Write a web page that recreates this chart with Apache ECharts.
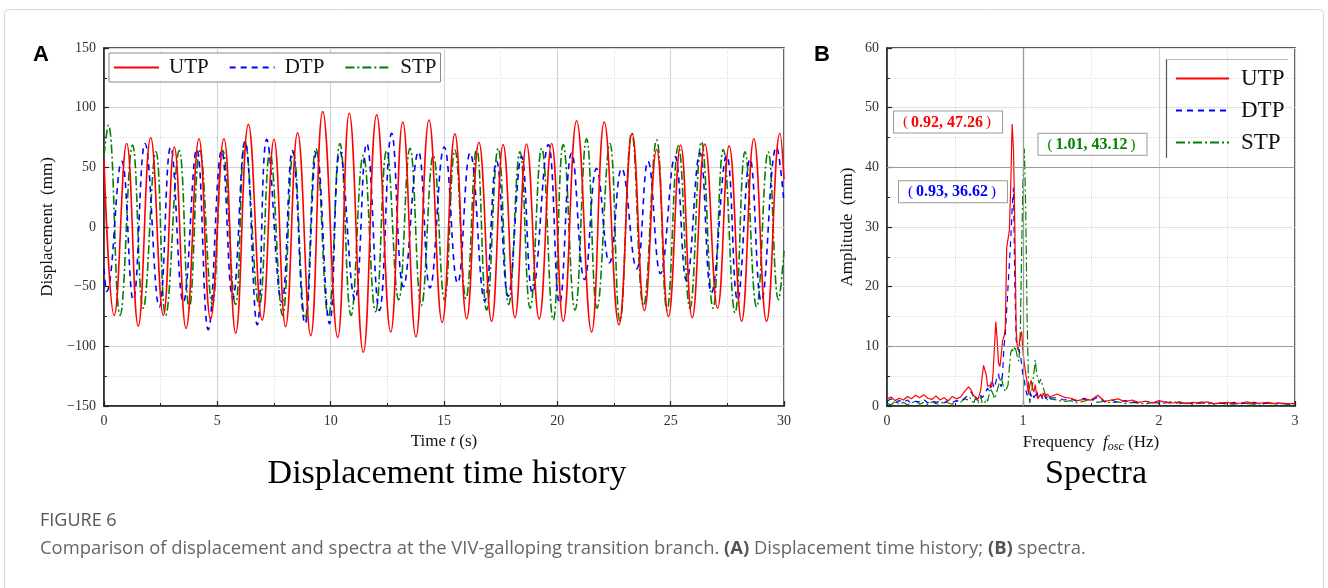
<!DOCTYPE html>
<html><head><meta charset="utf-8">
<script src="https://cdn.jsdelivr.net/npm/echarts@6/dist/echarts.min.js"></script>
<style>html,body{margin:0;padding:0;background:#fff}#c{width:1328px;height:588px}</style>
</head><body><div id="c"></div>
<script>
// ---------- Panel A: displacement time history (turning points) ----------
const seriesNames = ['UTP', 'DTP', 'STP'];
const utpT = [0,0.45,1.0,1.51,2.06,2.62,3.1,3.62,4.19,4.7,5.29,5.81,6.37,6.98,7.5,8.01,8.54,9.12,9.65,10.31,10.82,11.44,12.03,12.65,13.18,13.76,14.34,14.92,15.48,16.0,16.54,17.1,17.61,18.13,18.64,19.2,19.75,20.26,20.85,21.51,22.07,22.72,23.3,23.84,24.38,24.9,25.44,25.95,26.51,27.07,27.58,28.13,28.67,29.23,29.82,30];
const utpV = [55,-74,70,-83,75,-74,67,-85,74,-77,74,-89,86,-78,73.5,-83.5,79,-91,96.7,-92.5,95.3,-105,94,-88,88,-92,89.7,-80,78,-77,71,-79,69,-76,69.5,-77,70,-79,89,-88,88,-82,78.5,-70,65,-75,68.7,-76,69.5,-68,68,-79,74,-79,78.5,40];
const dtpT = [0,0.12,0.78,1.29,1.81,2.44,2.94,3.5,4.09,4.6,5.19,5.68,6.22,6.76,7.18,7.84,8.31,8.87,9.38,9.95,10.41,11.07,11.59,12.15,12.69,13.21,13.87,14.38,15.01,15.6,16.15,16.8,17.32,17.83,18.42,18.9,19.6,20.1,20.63,21.2,21.73,22.3,22.84,23.5,24.0,24.55,25.19,25.7,26.29,26.8,27.47,27.95,28.5,29.0,29.67,30];
const dtpV = [-35,-54,55,-61,70,-67,67,-63,65,-86,64,-60,71.5,-82,73.5,-63,64,-81,63,-81,63,-61,70,-70,78.5,-50,63,-51,67,-47,62,-62,55,-58,59,-55,69,-64,62,-44,49,-30,49,-35,55,-39,59,-45,62,-55,60,-61,57,-62,67,20];
const stpT = [0,0.19,0.71,1.26,1.73,2.29,2.72,3.32,3.76,4.23,4.78,5.24,5.8,6.22,6.85,7.32,7.88,8.35,8.87,9.35,9.9,10.41,10.9,11.44,11.98,12.47,13.0,13.5,14.0,14.53,15.02,15.48,15.97,16.44,16.88,17.39,17.85,18.35,18.8,19.31,19.82,20.26,20.78,21.29,21.75,22.32,22.76,23.28,23.8,24.38,24.84,25.34,25.85,26.36,26.87,27.32,27.84,28.28,28.79,29.3,29.76,30];
const stpV = [60,85.5,-74,68.7,-68,63,-74,64,-68,64,-65,64,-65,71.5,-66,62,-74,63,-76.5,66,-75,70,-74,60,-71,64,-61,66,-66,60,-61,64.5,-60,66,-69.6,66,-65,63,-68,66,-78,69,-69.6,74,-68,70,-79,79,-66,73,-69.6,68,-68,71.5,-68,65,-72,63,-67,63,-61,-20];

// ---------- Panel B: amplitude spectra ----------
const freqs = [0,0.03,0.06,0.09,0.12,0.15,0.18,0.21,0.24,0.27,0.3,0.33,0.36,0.39,0.42,0.45,0.48,0.51,0.54,0.57,0.6,
  0.61,0.62,0.63,0.64,0.65,0.66,0.67,0.68,0.69,0.7,0.71,0.72,0.73,0.74,0.75,0.76,0.77,0.78,0.79,0.8,
  0.81,0.82,0.83,0.84,0.85,0.86,0.87,0.88,0.89,0.9,0.91,0.92,0.93,0.94,0.95,0.96,0.97,0.98,0.99,1.0,
  1.01,1.02,1.03,1.04,1.05,1.06,1.07,1.08,1.09,1.1,1.11,1.12,1.13,1.14,1.15,1.16,1.17,1.18,1.19,1.2,
  1.25,1.3,1.35,1.4,1.45,1.5,1.55,1.6,1.65,1.7,1.75,1.8,1.85,1.9,1.95,2.0,2.05,2.1,2.15,2.2,
  2.25,2.3,2.35,2.4,2.45,2.5,2.55,2.6,2.65,2.7,2.75,2.8,2.85,2.9,2.95,3.0];
const utpAmp = [1.2,1.5,0.9,1.3,1.0,1.6,1.2,1.8,1.4,1.9,1.3,1.1,1.7,1.0,1.4,0.8,1.6,1.2,1.5,2.4,3.2,
  3.4,2.6,2.0,1.7,1.4,1.5,1.2,1.9,2.8,5.0,6.8,7.1,5.2,3.3,3.0,3.5,3.1,5.5,9.8,14.1,
  11.0,7.2,6.6,8.5,11.0,11.6,13.0,26.5,28.0,29.5,37.0,47.26,43.0,30.0,12.5,9.5,10.0,11.5,12.5,9.0,
  7.0,5.5,3.8,2.0,3.5,4.3,3.0,2.4,3.6,1.8,1.2,1.1,2.0,1.5,2.2,1.6,1.3,2.0,1.8,1.5,
  2.0,1.5,1.3,0.9,1.1,1.0,1.8,0.8,1.0,1.2,0.7,1.0,0.6,0.8,0.5,0.9,0.6,0.5,0.7,0.4,
  0.6,0.5,0.7,0.4,0.5,0.6,0.4,0.5,0.7,0.4,0.5,0.6,0.4,0.5,0.3,0.5];
const dtpAmp = [0.8,1.2,0.5,0.9,0.6,1.0,0.4,0.8,0.7,1.1,0.5,0.9,0.6,0.8,0.5,1.0,0.6,0.9,0.7,1.3,1.8,
  1.6,2.4,1.8,1.2,1.6,1.3,0.9,1.2,1.8,1.4,1.1,2.0,2.6,3.0,2.4,3.2,4.5,3.6,3.0,4.0,
  5.0,5.4,4.0,3.2,5.5,10.0,12.0,16.0,20.0,24.0,28.0,33.0,36.62,20.0,11.0,9.8,9.2,8.8,7.0,5.0,
  4.2,2.8,1.8,2.2,2.6,1.5,2.0,1.4,1.8,2.6,1.6,1.2,1.9,1.4,1.0,1.6,1.2,1.8,1.3,1.0,
  1.4,1.0,1.2,0.8,1.3,0.9,1.5,0.7,1.0,0.6,0.9,0.7,0.5,0.8,0.6,0.5,0.7,0.4,0.6,0.5,
  0.4,0.6,0.7,0.4,0.5,0.3,0.6,0.4,0.5,0.6,0.3,0.5,0.4,0.6,0.3,0.4];
const stpAmp = [0.4,0.2,0.8,0.3,0.6,0.2,0.5,0.9,0.3,0.6,0.2,0.7,0.4,0.3,0.8,0.5,0.3,0.9,0.6,1.2,1.0,
  1.4,0.8,1.1,0.6,1.3,0.9,0.5,0.8,1.6,0.4,0.2,0.6,1.2,0.8,1.8,3.0,3.2,2.0,1.2,1.8,
  2.6,3.4,4.2,4.9,3.8,3.0,2.4,2.2,3.5,6.5,9.0,9.5,9.1,10.0,9.2,8.0,7.5,12.0,26.0,38.0,
  43.12,33.0,15.0,4.0,0.5,1.8,3.5,5.5,7.7,5.5,4.5,3.8,4.5,4.2,3.0,2.2,1.5,1.0,1.6,1.2,
  1.0,0.7,0.9,0.5,0.8,1.2,0.6,0.8,0.5,0.7,0.4,0.6,0.5,0.3,0.6,0.4,0.5,0.8,0.4,0.5,
  0.3,0.5,0.4,0.3,0.5,0.4,0.3,0.5,0.4,0.3,0.4,0.5,0.3,0.4,0.3,0.4];
const peakF = [0.92, 0.93, 1.01];
const peakA = [47.26, 36.62, 43.12];

const colors = {UTP: '#ff0000', DTP: '#0000ff', STP: '#008000'};
const dashes = {UTP: 'solid', DTP: [6, 5], STP: [9, 3, 2, 3]};
const SERIF = '"Liberation Serif", "Times New Roman", serif';
const pairs = (xs, ys) => xs.map((x, i) => [x, ys[i]]);
const minusFmt = v => String(v).replace('-', '\u2212');

function axisCommon(extra) {
  return Object.assign({
    type: 'value',
    axisLine: {show: true, onZero: false, lineStyle: {color: '#222', width: 1.5}},
    axisTick: {show: true, inside: true, length: 5, lineStyle: {color: '#222', width: 1.2}},
    minorTick: {show: true, splitNumber: 2, length: 3, lineStyle: {color: '#222', width: 1}},
    axisLabel: {fontFamily: SERIF, fontSize: 14, color: '#333', formatter: minusFmt},
    splitLine: {show: true, lineStyle: {color: '#d4d4d4', width: 1.2}},
    minorSplitLine: {show: true, lineStyle: {color: '#dedede', type: 'dotted', width: 1}},
    nameLocation: 'middle',
    nameTextStyle: {fontFamily: SERIF, fontSize: 17, color: '#111'}
  }, extra);
}

const chart = echarts.init(document.getElementById('c'), null, {renderer: 'canvas'});

const labelPos = {UTP: [0.449, 47.6], DTP: [0.485, 35.9], STP: [1.511, 43.85]};

const seriesA = [
  {name: 'STP', t: stpT, v: stpV},
  {name: 'DTP', t: dtpT, v: dtpV},
  {name: 'UTP', t: utpT, v: utpV}
].map(s => ({
  name: s.name, type: 'line', xAxisIndex: 0, yAxisIndex: 0,
  data: pairs(s.t, s.v), smooth: 0.45, symbol: 'none', showSymbol: false,
  lineStyle: {color: colors[s.name], width: 1.6, type: dashes[s.name]},
  itemStyle: {color: colors[s.name]}, animation: false
}));

const ampMap = {UTP: utpAmp, DTP: dtpAmp, STP: stpAmp};
const seriesB = ['STP', 'DTP', 'UTP'].map((name, k) => {
  const idx = seriesNames.indexOf(name);
  const c = colors[name];
  const s = {
    name, type: 'line', xAxisIndex: 1, yAxisIndex: 1,
    data: pairs(freqs, ampMap[name]), symbol: 'none', showSymbol: false,
    lineStyle: {color: c, width: 1.2, type: dashes[name]},
    itemStyle: {color: c}, animation: false,
    markPoint: {
      silent: true, symbol: 'rect', symbolSize: 1, itemStyle: {color: 'rgba(0,0,0,0)'},
      label: {
        show: true, position: 'inside',
        formatter: '{l|(}{t|' + peakF[idx].toFixed(2) + ', ' + peakA[idx].toFixed(2) + '}{r|)}',
        rich: {
          l: {fontFamily: SERIF, fontSize: 15, color: c, padding: [0, 3, 0, 9]},
          r: {fontFamily: SERIF, fontSize: 15, color: c, padding: [0, 11, 0, 3]},
          t: {fontFamily: SERIF, fontWeight: 'bold', fontSize: 16, color: c}
        },
        backgroundColor: '#fff', borderColor: '#9a9a9a', borderWidth: 1, padding: [3, 0, 2, 0]
      },
      data: [{coord: labelPos[name]}]
    }
  };
  if (k === 0) {
    s.markLine = {
      silent: true, symbol: 'none', animation: false,
      lineStyle: {color: '#9a9a9a', type: 'solid', width: 1.2},
      label: {show: false},
      data: [{xAxis: 1}, {yAxis: 10}, {yAxis: 40}]
    };
  }
  return s;
});

const CAP = '"Open Sans", "Noto Sans", sans-serif';
const option = {
  animation: false,
  backgroundColor: '#fff',
  grid: [
    {left: 104, top: 48, width: 680, height: 358, show: true, borderColor: '#222', borderWidth: 1.5, backgroundColor: '#fff'},
    {left: 887, top: 48, width: 408, height: 358, show: true, borderColor: '#222', borderWidth: 1.5, backgroundColor: '#fff'}
  ],
  xAxis: [
    axisCommon({gridIndex: 0, min: 0, max: 30, interval: 5,
      name: '{n|Time }{i|t}{n| (s)}', nameGap: 26,
      nameTextStyle: {rich: {n: {fontFamily: SERIF, fontSize: 17, color: '#111'}, i: {fontFamily: SERIF, fontSize: 17, fontStyle: 'italic', color: '#111'}}}}),
    axisCommon({gridIndex: 1, min: 0, max: 3, interval: 1,
      name: '{n|Frequency  }{i|f}{s|osc}{n| (Hz)}', nameGap: 26,
      nameTextStyle: {rich: {
        n: {fontFamily: SERIF, fontSize: 17, color: '#111', lineHeight: 20},
        i: {fontFamily: SERIF, fontSize: 17, fontStyle: 'italic', color: '#111', lineHeight: 20},
        s: {fontFamily: SERIF, fontSize: 12, fontStyle: 'italic', color: '#111', verticalAlign: 'bottom', lineHeight: 14, padding: [8, 0, 0, 0]}}}})
  ],
  yAxis: [
    axisCommon({gridIndex: 0, min: -150, max: 150, interval: 50,
      name: 'Displacement  (mm)', nameGap: 37}),
    axisCommon({gridIndex: 1, min: 0, max: 60, interval: 10,
      name: 'Amplitude  (mm)', nameGap: 31,
      splitLine: {show: true, lineStyle: {color: '#e2e2e2', width: 1.2}}})
  ],
  legend: [
    {data: seriesNames, left: 109, top: 53, orient: 'horizontal',
      backgroundColor: '#fff', borderColor: '#888', borderWidth: 1, padding: [4, 4, 4, 4],
      itemWidth: 45, itemHeight: 14, itemGap: 20, itemStyle: {opacity: 0},
      textStyle: {fontFamily: SERIF, fontSize: 21, color: '#111', padding: [0, 0, 0, 5]}},
    {data: seriesNames, left: 1170, top: 62, orient: 'vertical',
      itemWidth: 53, itemHeight: 14, itemGap: 9, itemStyle: {opacity: 0},
      textStyle: {fontFamily: SERIF, fontSize: 23, color: '#111', padding: [0, 0, 0, 7]}}
  ],
  series: seriesA.concat(seriesB),
  graphic: [
    {type: 'rect', silent: true, z: -10, shape: {x: 4.5, y: 9.5, width: 1319, height: 640, r: 4},
      style: {fill: 'none', stroke: '#d8d8d8', lineWidth: 1}},
    {type: 'text', silent: true, x: 33, y: 44, style: {text: 'A', font: 'bold 22px "Liberation Sans", Arial, sans-serif', fill: '#000'}},
    {type: 'text', silent: true, x: 814, y: 44, style: {text: 'B', font: 'bold 22px "Liberation Sans", Arial, sans-serif', fill: '#000'}},
    {type: 'text', silent: true, x: 447, y: 474, style: {text: 'Displacement time history', font: '34px ' + SERIF, fill: '#000', align: 'center', verticalAlign: 'middle'}},
    {type: 'text', silent: true, x: 1096, y: 474, style: {text: 'Spectra', font: '34px ' + SERIF, fill: '#000', align: 'center', verticalAlign: 'middle'}},
    {type: 'line', silent: true, z: 100, shape: {x1: 1166.5, y1: 59, x2: 1166.5, y2: 158}, style: {stroke: '#555', lineWidth: 1.2}},
    {type: 'line', silent: true, z: 100, shape: {x1: 1166.5, y1: 59.5, x2: 1288, y2: 59.5}, style: {stroke: '#bbb', lineWidth: 1}},
    {type: 'text', silent: true, x: 40, y: 521, style: {text: 'FIGURE 6', font: '18px ' + CAP, fill: '#555', verticalAlign: 'middle'}},
    {type: 'text', silent: true, x: 40, y: 549, style: {
      text: '{n|Comparison of displacement and spectra at the VIV-galloping transition branch. }{b|(A)}{n| Displacement time history; }{b|(B)}{n| spectra.}',
      verticalAlign: 'middle',
      rich: {
        n: {font: '18.4px ' + CAP, fill: '#666'},
        b: {font: 'bold 18.4px ' + CAP, fill: '#555'}
      }}}
  ]
};
chart.setOption(option);
</script>
</body></html>
